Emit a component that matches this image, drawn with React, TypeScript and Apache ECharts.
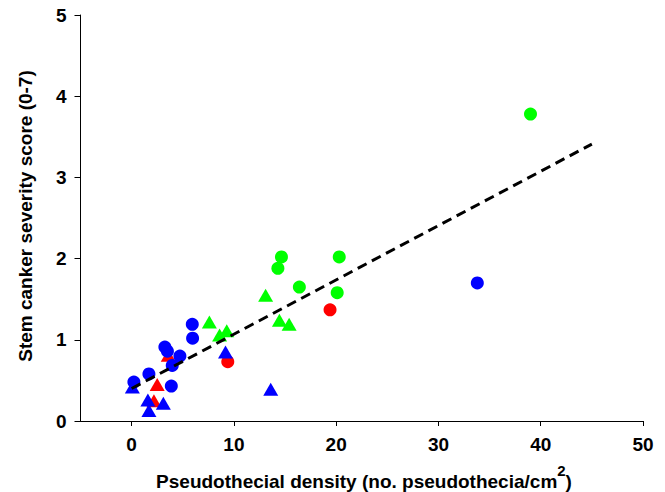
import React, { useEffect, useRef } from "react";
import * as echarts from "echarts";

// Data (x = pseudothecial density, y = stem canker severity score)
const greenCircles: number[][] = [[39.0, 3.78], [14.65, 2.02], [14.3, 1.88], [20.3, 2.02], [16.4, 1.65], [20.1, 1.58]];
const greenTriangles: number[][] = [[13.1, 1.55], [7.6, 1.22], [8.6, 1.06], [9.3, 1.11], [14.45, 1.24], [15.4, 1.19]];
const redCircles: number[][] = [[19.4, 1.37], [9.4, 0.73]];
const redTriangles: number[][] = [[3.58, 0.81], [2.5, 0.45], [2.18, 0.25]];
const blueCircles: number[][] = [[5.93, 1.19], [5.96, 1.02], [3.25, 0.91], [3.5, 0.86], [4.72, 0.8], [3.97, 0.685], [1.69, 0.58], [0.22, 0.48], [3.88, 0.43], [33.8, 1.7]];
const blueTriangles: number[][] = [[0.07, 0.42], [1.59, 0.26], [1.69, 0.13], [3.1, 0.22], [9.18, 0.85], [13.6, 0.39]];
const regressionLine: number[][] = [[0, 0.4], [45, 3.41]];
const xTicks = [0, 10, 20, 30, 40, 50];

const GREEN = "#00ff00";
const RED = "#ff0000";
const BLUE = "#0000ff";
const FONT = "Liberation Sans, Arial, sans-serif";

export default function App() {
  const ref = useRef<HTMLDivElement>(null);
  useEffect(() => {
    if (!ref.current) return;
    const chart = echarts.init(ref.current, null, { renderer: "svg" });
    const circ = (name: string, data: number[][], color: string) => ({
      name, type: "scatter", data, symbol: "circle", symbolSize: 13,
      itemStyle: { color, opacity: 1 }, silent: true,
    });
    const tri = (name: string, data: number[][], color: string) => ({
      name, type: "scatter", data, symbol: "triangle", symbolSize: [15, 13],
      itemStyle: { color, opacity: 1 }, silent: true,
    });
    chart.setOption({
      animation: false,
      backgroundColor: "#fff",
      grid: { left: 80.5, right: 22, top: 15, bottom: 71, containLabel: false },
      xAxis: {
        type: "value", min: -5, max: 50,
        splitLine: { show: false },
        axisLine: { onZero: false, lineStyle: { color: "#000", width: 1 } },
        axisTick: { show: true, length: 5, customValues: xTicks, lineStyle: { color: "#000" } },
        axisLabel: { customValues: xTicks, margin: 14, color: "#000", fontSize: 19, fontWeight: "bold", fontFamily: FONT },
      },
      yAxis: {
        type: "value", min: 0, max: 5, interval: 1,
        splitLine: { show: false },
        axisLine: { show: true, onZero: false, lineStyle: { color: "#000", width: 1 } },
        axisTick: { show: true, length: 6, lineStyle: { color: "#000" } },
        axisLabel: { margin: 14, color: "#000", fontSize: 19, fontWeight: "bold", fontFamily: FONT },
      },
      graphic: [
        {
          type: "text", x: 25, y: 216, rotation: Math.PI / 2,
          style: {
            text: "Stem canker severity score (0-7)",
            font: `bold 19px ${FONT}`, fill: "#000",
            align: "center", verticalAlign: "middle",
            textAlign: "center", textVerticalAlign: "middle",
          },
        },
        {
          type: "text", x: 364, y: 477,
          style: {
            text: "{a|Pseudothecial density (no. pseudothecia/cm}{s|2}{a|)}",
            fill: "#000",
            align: "center", verticalAlign: "middle",
            textAlign: "center", textVerticalAlign: "middle",
            rich: {
              a: { fontSize: 19, fontWeight: "bold", fontFamily: FONT, lineHeight: 28, verticalAlign: "bottom", fill: "#000" },
              s: { fontSize: 15, fontWeight: "bold", fontFamily: FONT, lineHeight: 28, verticalAlign: "top", fill: "#000" },
            },
          },
        },
      ],
      series: [
        circ("green circles", greenCircles, GREEN),
        tri("green triangles", greenTriangles, GREEN),
        circ("red circles", redCircles, RED),
        tri("red triangles", redTriangles, RED),
        tri("blue triangles", blueTriangles, BLUE),
        circ("blue circles", blueCircles, BLUE),
        {
          name: "regression", type: "line", data: regressionLine, symbol: "none",
          lineStyle: { color: "#000", width: 3, type: [10, 6] }, silent: true, z: 5,
        },
      ],
    });
    return () => chart.dispose();
  }, []);
  return <div ref={ref} style={{ width: 665, height: 492, position: "absolute", left: 0, top: 0 }} />;
}
